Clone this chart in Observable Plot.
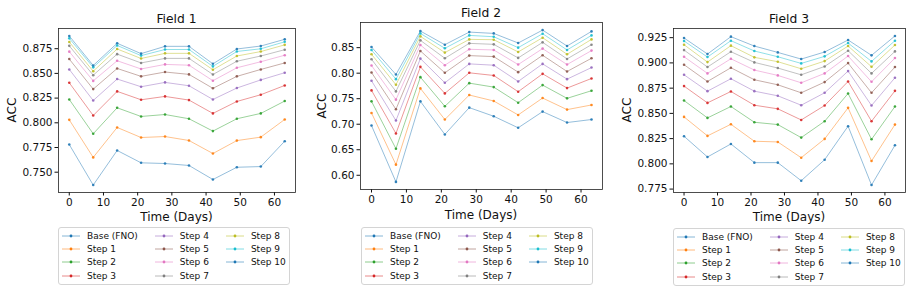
<!DOCTYPE html>
<html>
<head>
<meta charset="utf-8">
<script src="https://cdn.jsdelivr.net/npm/d3@7"></script>
<script src="https://cdn.jsdelivr.net/npm/@observablehq/plot@0.6"></script>
<style>
  body { margin: 0; background: #fff; font-family: "DejaVu Sans", sans-serif; color: #111; }
  #fig { position: relative; width: 917px; height: 290px; overflow: hidden; background: #fff; }
  .abs { position: absolute; }
  .centered { transform: translate(-50%, -50%); white-space: nowrap; }
  .title { font-size: 12.3px; }
  .axlabel { font-size: 12px; }
  .ylab { transform: translate(-50%, -50%) rotate(-90deg); }
  .legend {
    position: absolute; border: 1px solid #d4d4d4; border-radius: 3px; background: #fff;
    padding: 1px 3px 1px 3px; display: grid; grid-auto-flow: column;
    grid-template-rows: repeat(4, 13.4px); column-gap: 17px; font-size: 9px;
  }
  .item { display: flex; align-items: center; white-space: nowrap; }
  .item svg { margin-right: 7px; }
</style>
</head>
<body>
<div id="fig"></div>
<script>
// Forecast days evaluated
const days = [0, 7, 14, 21, 28, 35, 42, 49, 56, 63];

const seriesNames = ["Base (FNO)", "Step 1", "Step 2", "Step 3", "Step 4", "Step 5",
  "Step 6", "Step 7", "Step 8", "Step 9", "Step 10"];

// tab10 cycle; the 11th series wraps back to the first colour
const palette = ["#1f77b4", "#ff7f0e", "#2ca02c", "#d62728", "#9467bd", "#8c564b",
  "#e377c2", "#7f7f7f", "#bcbd22", "#17becf", "#1f77b4"];

// ACC per series (rows follow seriesNames, columns follow days)
const field1 = [
  [0.778, 0.737, 0.772, 0.7595, 0.7588, 0.7568, 0.7426, 0.755, 0.7557, 0.7814],
  [0.803, 0.765, 0.7953, 0.7851, 0.7861, 0.7821, 0.7689, 0.782, 0.7855, 0.8034],
  [0.8236, 0.7889, 0.8152, 0.8064, 0.8084, 0.8041, 0.7916, 0.8041, 0.8095, 0.822],
  [0.8405, 0.8074, 0.8318, 0.8233, 0.8267, 0.823, 0.8095, 0.8216, 0.8284, 0.8378],
  [0.854, 0.8226, 0.8443, 0.8365, 0.8409, 0.8375, 0.8236, 0.8352, 0.8434, 0.8507],
  [0.8645, 0.8341, 0.855, 0.847, 0.8514, 0.849, 0.8349, 0.847, 0.854, 0.8606],
  [0.872, 0.8424, 0.8628, 0.8545, 0.8591, 0.8583, 0.8426, 0.8557, 0.8618, 0.8684],
  [0.8779, 0.8482, 0.8695, 0.8606, 0.8652, 0.8652, 0.8489, 0.8623, 0.8676, 0.874],
  [0.8818, 0.8522, 0.8747, 0.8651, 0.8703, 0.8703, 0.8537, 0.8676, 0.8721, 0.8789],
  [0.8855, 0.8561, 0.8783, 0.868, 0.8742, 0.8742, 0.8571, 0.8722, 0.8749, 0.882],
  [0.8879, 0.858, 0.8805, 0.87, 0.8774, 0.8774, 0.8597, 0.8747, 0.8777, 0.8845]
];

const field2 = [
  [0.6974, 0.587, 0.7448, 0.680, 0.7325, 0.7156, 0.693, 0.7247, 0.7033, 0.7092],
  [0.7221, 0.6208, 0.7702, 0.7092, 0.7572, 0.7455, 0.7182, 0.7513, 0.7286, 0.7377],
  [0.7448, 0.652, 0.7922, 0.7351, 0.7805, 0.7727, 0.7422, 0.7766, 0.7507, 0.7656],
  [0.7663, 0.6819, 0.8124, 0.7604, 0.8007, 0.7955, 0.7637, 0.7987, 0.7708, 0.7896],
  [0.7851, 0.7072, 0.8286, 0.7812, 0.8182, 0.8156, 0.7838, 0.8182, 0.7883, 0.811],
  [0.8013, 0.7293, 0.8435, 0.8007, 0.8344, 0.8325, 0.802, 0.835, 0.8033, 0.8292],
  [0.815, 0.7481, 0.8552, 0.8156, 0.8468, 0.8455, 0.8169, 0.8481, 0.8169, 0.8442],
  [0.8273, 0.7643, 0.8643, 0.8292, 0.8584, 0.8565, 0.8299, 0.8604, 0.8279, 0.8558],
  [0.837, 0.7773, 0.8721, 0.8403, 0.8662, 0.8656, 0.8416, 0.8695, 0.837, 0.8662],
  [0.8455, 0.7883, 0.8779, 0.8487, 0.874, 0.8714, 0.85, 0.8773, 0.8455, 0.874],
  [0.8513, 0.7974, 0.8825, 0.8558, 0.8805, 0.8779, 0.8591, 0.8844, 0.8532, 0.8818]
];

const field3 = [
  [0.8273, 0.8068, 0.8197, 0.8012, 0.8012, 0.7833, 0.8041, 0.8373, 0.779, 0.8184],
  [0.8465, 0.8277, 0.8392, 0.8224, 0.8217, 0.8061, 0.8247, 0.8555, 0.8028, 0.8389],
  [0.8627, 0.8455, 0.8568, 0.8412, 0.8389, 0.826, 0.8422, 0.8697, 0.8243, 0.8568],
  [0.877, 0.8604, 0.8717, 0.8581, 0.8545, 0.8435, 0.8578, 0.8816, 0.8422, 0.8723],
  [0.8882, 0.872, 0.8843, 0.872, 0.8674, 0.8581, 0.8704, 0.8919, 0.8578, 0.8853],
  [0.8982, 0.8816, 0.8952, 0.8833, 0.8783, 0.8704, 0.881, 0.8998, 0.8704, 0.8959],
  [0.9061, 0.8896, 0.9041, 0.8929, 0.8876, 0.8803, 0.8896, 0.9068, 0.8813, 0.9048],
  [0.9127, 0.8959, 0.9111, 0.9005, 0.8949, 0.8882, 0.8965, 0.9121, 0.8896, 0.9114],
  [0.918, 0.9008, 0.9171, 0.9055, 0.9012, 0.8942, 0.9018, 0.9167, 0.8962, 0.9177],
  [0.9217, 0.9058, 0.922, 0.9118, 0.9061, 0.8995, 0.9065, 0.9197, 0.9015, 0.922],
  [0.9247, 0.9088, 0.926, 0.9167, 0.9104, 0.9038, 0.9108, 0.9227, 0.9075, 0.9267]
];

// Tick values
const xTicks = [0, 10, 20, 30, 40, 50, 60];
const yTicks1 = [0.750, 0.775, 0.800, 0.825, 0.850, 0.875];
const yTicks2 = [0.60, 0.65, 0.70, 0.75, 0.80, 0.85];
const yTicks3 = [0.775, 0.800, 0.825, 0.850, 0.875, 0.900, 0.925];

const fieldTitles = ["Field 1", "Field 2", "Field 3"];

const fig = document.getElementById("fig");

function toRows(matrix) {
  const rows = [];
  matrix.forEach((vals, s) => vals.forEach((v, i) => rows.push({series: seriesNames[s], day: days[i], acc: v})));
  return rows;
}

// Autoscale with 5% padding on each side
function padded(ext) {
  const p = (ext[1] - ext[0]) * 0.05;
  return [ext[0] - p, ext[1] + p];
}

function addText(text, cls, x, y) {
  const d = document.createElement("div");
  d.className = "abs " + cls;
  d.style.left = x + "px";
  d.style.top = y + "px";
  d.textContent = text;
  fig.appendChild(d);
}

function addLegend(x, y) {
  const lg = document.createElement("div");
  lg.className = "legend";
  lg.style.left = x + "px";
  lg.style.top = y + "px";
  seriesNames.forEach((name, i) => {
    const it = document.createElement("div");
    it.className = "item";
    const c = palette[i];
    it.innerHTML = `<svg width="18" height="8"><line x1="0" x2="18" y1="4" y2="4" stroke="${c}" stroke-opacity="0.6" stroke-width="0.9"/><circle cx="9" cy="4" r="1.4" fill="${c}"/></svg><span>${name}</span>`;
    lg.appendChild(it);
  });
  fig.appendChild(lg);
}

function panel(cfg) {
  const rows = toRows(cfg.data);
  const chart = Plot.plot({
    width: cfg.width,
    height: cfg.height,
    marginLeft: cfg.ml,
    marginRight: 5,
    marginTop: cfg.mt,
    marginBottom: cfg.mb,
    style: {fontFamily: "DejaVu Sans, sans-serif", fontSize: "10.5px", color: "#111", background: "transparent", overflow: "visible"},
    x: {domain: padded(d3.extent(days)), ticks: xTicks, tickSize: 3.5, tickPadding: 2.5, label: null},
    y: {domain: padded(d3.extent(rows, d => d.acc)), ticks: cfg.yTicks, tickFormat: d3.format(cfg.fmt), tickSize: 3.5, tickPadding: 2.5, label: null},
    color: {domain: seriesNames, range: palette},
    marks: [
      Plot.line(rows, {x: "day", y: "acc", z: "series", stroke: "series", strokeWidth: 0.8, strokeOpacity: 0.6}),
      Plot.dot(rows, {x: "day", y: "acc", fill: "series", r: 1.3, fillOpacity: 0.9}),
      Plot.frame({stroke: "#222", strokeWidth: 0.8})
    ]
  });
  chart.style.position = "absolute";
  chart.style.left = cfg.left + "px";
  chart.style.top = "0px";
  fig.appendChild(chart);

  const cx = cfg.left + cfg.ml + (cfg.width - cfg.ml - 5) / 2;
  const cy = cfg.mt + (cfg.height - cfg.mt - cfg.mb) / 2;
  addText(cfg.title, "centered title", cx, cfg.titleY);
  addText("ACC", "ylab axlabel", cfg.accX, cy);
  addText("Time (Days)", "centered axlabel", cx, cfg.timeY);
  addLegend(cfg.legX, cfg.legY);
}

panel({data: field1, title: fieldTitles[0], left: 0, width: 300, height: 212, ml: 58, mt: 28, mb: 20,
  yTicks: yTicks1, fmt: ".3f", titleY: 18.5, accX: 12, timeY: 217, legX: 58, legY: 227});
panel({data: field2, title: fieldTitles[1], left: 300, width: 307, height: 210, ml: 60, mt: 22, mb: 21,
  yTicks: yTicks2, fmt: ".2f", titleY: 12.5, accX: 322, timeY: 215, legX: 361, legY: 227});
panel({data: field3, title: fieldTitles[2], left: 610, width: 300, height: 212, ml: 63, mt: 28, mb: 20,
  yTicks: yTicks3, fmt: ".3f", titleY: 18.5, accX: 627, timeY: 217, legX: 673, legY: 228});
</script>
</body>
</html>
